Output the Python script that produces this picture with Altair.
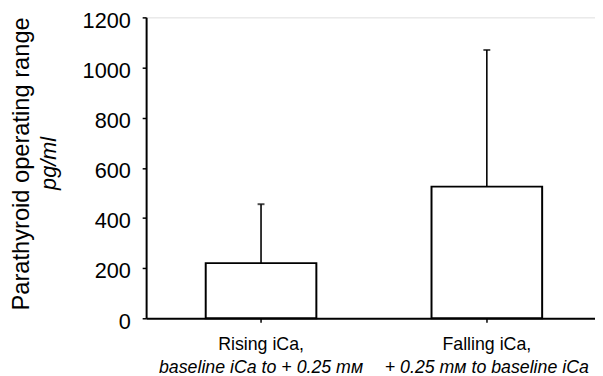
import altair as alt
import pandas as pd

categories = ["Rising iCa,", "Falling iCa,"]
subtitles = ["baseline iCa to + 0.25 mᴍ", "+ 0.25 mᴍ to baseline iCa"]
means = [220, 525]
upper = [455, 1070]
y_ticks = list(range(0, 1300, 100))
y_title = "Parathyroid operating range"
y_unit = "pg/ml"

df = pd.DataFrame({"cat": categories, "sub": subtitles, "mean": means, "upper": upper})
unit_df = pd.DataFrame({"t": [y_unit]})

FONT = "Liberation Sans"
W, H = 455, 305

x_enc = alt.X(
    "cat:N",
    sort=categories,
    scale=alt.Scale(paddingInner=0.51, paddingOuter=0.249, align=0.53),
    axis=alt.Axis(
        title=None, labelAngle=0, labelFontSize=18, labelColor="black", labelFont=FONT,
        labelPadding=14, tickSize=4, tickColor="black", tickWidth=1.5,
        domainColor="black", domainWidth=2,
    ),
)
y_enc = alt.Y(
    "mean:Q",
    scale=alt.Scale(domain=[0, 1200], nice=False),
    axis=alt.Axis(
        values=y_ticks, format="d",
        labelExpr="datum.value % 200 == 0 ? datum.label : ''",
        labelFontSize=22, labelColor="black", labelFont=FONT, labelPadding=12,
        labelOffset=3,
        tickSize=4, tickColor="black", tickWidth=1.5,
        domainColor="black", domainWidth=2, grid=False,
        title=y_title, titleFontSize=24, titleFontWeight="normal", titleFont=FONT,
        titleColor="black", titleAngle=270, titleX=-126, titleY=148,
        titleAlign="center", titleBaseline="middle",
    ),
)

bars = alt.Chart(df).mark_bar(fill="white", stroke="black", strokeWidth=2).encode(
    x=x_enc, y=y_enc
)
stems = alt.Chart(df).mark_rule(color="black", strokeWidth=1.6).encode(
    x=alt.X("cat:N", sort=categories), y="mean:Q", y2="upper:Q"
)
caps = alt.Chart(df).mark_tick(color="black", thickness=2, size=7).encode(
    x=alt.X("cat:N", sort=categories), y="upper:Q"
)
subs = alt.Chart(df).mark_text(
    font=FONT, fontSize=18, fontStyle="italic", color="black",
    align="center", baseline="alphabetic",
).encode(x=alt.X("cat:N", sort=categories), y=alt.value(360), text="sub:N")

unit = alt.Chart(unit_df).mark_text(
    font=FONT, fontSize=22, fontStyle="italic", color="black",
    align="center", baseline="middle", angle=270,
).encode(x=alt.value(-98), y=alt.value(148), text="t:N")

chart = alt.layer(bars, stems, caps, subs, unit).properties(
    width=W, height=H,
    padding={"left": 140, "top": 7, "right": 0, "bottom": 56},
    autosize=alt.AutoSizeParams(type="none"),
).configure_view(stroke=None).configure(font=FONT)

chart.save("out.html", embed_options={"renderer": "svg", "actions": False})
